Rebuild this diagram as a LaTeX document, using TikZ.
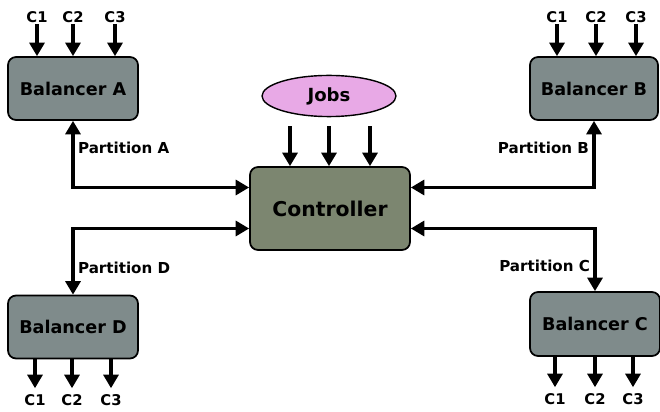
\documentclass[tikz,border=0pt]{standalone}
\usepackage{fontspec}
\setmainfont{DejaVu Sans}
\usepackage{tikz}
\usetikzlibrary{arrows.meta,calc,shapes.geometric}

\definecolor{balgray}{HTML}{7F8B8B}
\definecolor{ctrlgray}{HTML}{7C8670}
\definecolor{jobpink}{HTML}{E8A9E6}

\tikzset{
    balancer/.style={draw, line width=1pt, rounded corners=0.16cm, fill=balgray,
        minimum width=2.6cm, minimum height=1.26cm, font=\fontsize{10}{12}\selectfont\bfseries},
    ctrlbox/.style={draw, line width=1pt, rounded corners=0.16cm, fill=ctrlgray,
        minimum width=3.2cm, minimum height=1.66cm, font=\fontsize{11.6}{14}\selectfont\bfseries},
    clabel/.style={inner sep=0.5pt, font=\fontsize{8.4}{10}\selectfont\bfseries},
    plabel/.style={inner sep=2pt, font=\fontsize{8.6}{10}\selectfont\bfseries},
    arr/.style={line width=1.8pt, -{Triangle[width=0.3cm,length=0.27cm]}},
    darr/.style={line width=1.8pt, {Triangle[width=0.3cm,length=0.27cm]}-{Triangle[width=0.3cm,length=0.27cm]}}
}

\begin{document}
\begin{tikzpicture}[x=0.02cm,y=-0.02cm]
    \useasboundingbox (0,0) rectangle (660,412);

    \node[balancer] (balA) at (73,88.5) {Balancer A};
    \node[balancer, minimum width=2.56cm] (balB) at (594,88.5) {Balancer B};
    \node[balancer] (balD) at (73,327) {Balancer D};
    \node[balancer, minimum height=1.28cm] (balC) at (595,324) {Balancer C};
    \node[ctrlbox] (ctrl) at (330,208.5) {Controller};
    \node[ellipse, draw, line width=0.8pt, fill=jobpink, minimum width=2.68cm, minimum height=0.64cm,
        font=\fontsize{10.3}{12}\selectfont\bfseries] (jobs) at (329,96) {Jobs};

    % jobs into controller
    \foreach \x in {290,329,370}
        \draw[arr] ([yshift=-0.18cm]jobs.south -| \x,0) -- (ctrl.north -| \x,0);

    % consumers of the upper balancers
    \foreach \n/\x in {1/37,2/73,3/115}{
        \node[clabel] (a\n) at (\x,17) {C\n};
        \draw[arr] (a\n.south) -- (a\n |- balA.north);
    }
    \foreach \n/\x in {1/557,2/596,3/636}{
        \node[clabel] (b\n) at (\x,17) {C\n};
        \draw[arr] (b\n.south) -- (b\n |- balB.north);
    }

    % consumers of the lower balancers
    \foreach \n/\x in {1/35,2/72,3/111}{
        \node[clabel] (d\n) at (\x,400) {C\n};
        \draw[arr] (d\n |- balD.south) -- ([yshift=0.1cm]d\n.north);
    }
    \foreach \n/\x in {1/555,2/595,3/633}{
        \node[clabel] (c\n) at (\x,399) {C\n};
        \draw[arr] (c\n |- balC.south) -- ([yshift=0.1cm]c\n.north);
    }

    % partitions
    \draw[darr] ($(ctrl.west)+(0,-21)$) -| (balA.south) node[plabel, right, pos=0.8] {Partition A};
    \draw[darr] ($(ctrl.east)+(0,-21)$) -| (balB.south) node[plabel, left, pos=0.8] {Partition B};
    \draw[darr] ($(ctrl.west)+(0,20)$) -| (balD.north) node[plabel, right, pos=0.8] {Partition D};
    \draw[darr] ($(ctrl.east)+(0,20)$) -| (balC.north) node[plabel, left, pos=0.8] {Partition C};
\end{tikzpicture}
\end{document}
